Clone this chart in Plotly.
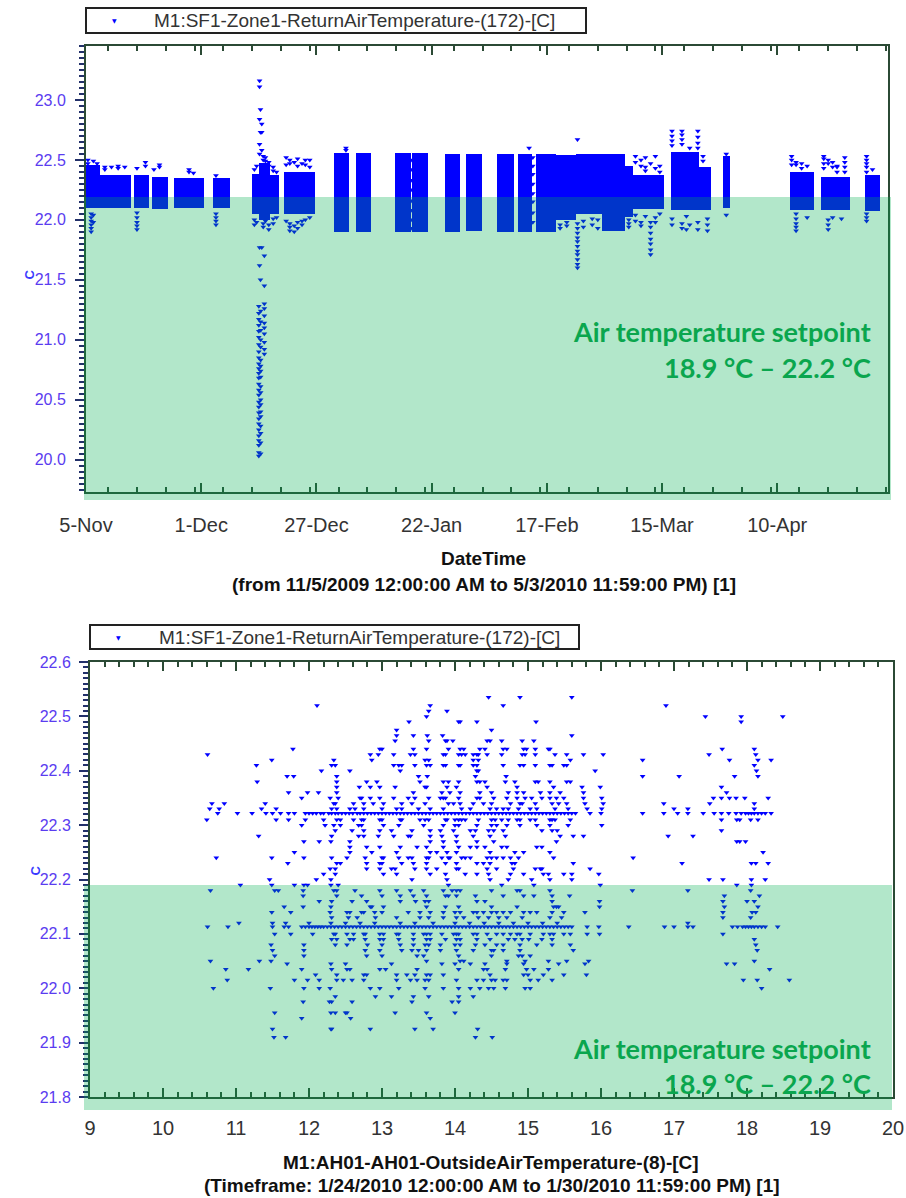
import pandas as pd
import plotly.graph_objects as go

# ---------------- Top chart data (return air temperature over time) ----------------
seg_start = ["2009-11-05 00:00", "2009-11-08 06:00", "2009-11-15 18:00", "2009-11-19 20:00",
             "2009-11-24 20:00", "2009-12-03 16:00", "2009-12-12 12:00", "2009-12-14 00:00",
             "2009-12-16 12:00", "2009-12-19 14:00", "2009-12-30 22:00", "2010-01-05 00:00",
             "2010-01-13 20:00", "2010-01-17 12:00", "2010-01-24 22:00", "2010-01-29 17:00",
             "2010-02-05 17:00", "2010-02-10 10:00", "2010-02-14 12:00", "2010-02-19 00:00",
             "2010-02-23 12:00", "2010-03-01 12:00", "2010-03-06 18:00", "2010-03-08 12:00",
             "2010-03-16 22:00", "2010-03-23 06:00", "2010-03-28 19:00", "2010-04-12 19:00",
             "2010-04-19 22:00", "2010-04-29 19:00"]
seg_end = ["2009-11-08 06:00", "2009-11-15 02:00", "2009-11-19 06:00", "2009-11-23 12:00",
           "2009-12-01 14:00", "2009-12-07 14:00", "2009-12-14 00:00", "2009-12-16 12:00",
           "2009-12-18 16:00", "2009-12-26 14:00", "2010-01-03 08:00", "2010-01-08 08:00",
           "2010-01-17 06:00", "2010-01-21 06:00", "2010-01-28 10:00", "2010-02-02 07:00",
           "2010-02-09 14:00", "2010-02-13 16:00", "2010-02-19 00:00", "2010-02-23 12:00",
           "2010-03-01 12:00", "2010-03-06 18:00", "2010-03-08 12:00", "2010-03-15 10:00",
           "2010-03-23 06:00", "2010-03-26 02:00", "2010-03-30 07:00", "2010-04-18 07:00",
           "2010-04-26 10:00", "2010-05-03 05:00"]
seg_low = [22.10, 22.10, 22.10, 22.09, 22.10, 22.10, 22.05, 22.00, 22.05, 22.05,
           21.90, 21.90, 21.90, 21.90, 21.90, 21.91, 21.90, 21.90, 21.90, 22.00,
           22.05, 21.91, 22.02, 22.09, 22.08, 22.08, 22.10, 22.08, 22.08, 22.07]
seg_high = [22.46, 22.37, 22.37, 22.36, 22.35, 22.35, 22.38, 22.47, 22.37, 22.40,
            22.56, 22.56, 22.56, 22.56, 22.55, 22.55, 22.55, 22.55, 22.55, 22.54,
            22.55, 22.55, 22.45, 22.37, 22.57, 22.44, 22.53, 22.40, 22.36, 22.37]

out_group_time = [
    "2009-11-05 10:00", "2009-11-06 04:00", "2009-11-06 16:00", "2009-11-07 12:00",
    "2009-11-09 06:00", "2009-11-10 18:00", "2009-11-12 06:00", "2009-11-13 18:00",
    "2009-11-16 12:00", "2009-11-18 10:00", "2009-11-20 08:00", "2009-11-21 14:00",
    "2009-11-28 06:00", "2009-11-29 06:00", "2009-12-04 08:00",
    "2009-12-13 00:00", "2009-12-13 12:00", "2009-12-15 00:00", "2009-12-15 12:00",
    "2009-12-16 06:00", "2009-12-17 06:00", "2009-12-18 00:00",
    "2009-12-14 04:00", "2009-12-14 09:00", "2009-12-14 16:00", "2009-12-15 06:00",
    "2009-12-14 00:00", "2009-12-14 10:00",
    "2009-12-20 04:00", "2009-12-21 00:00", "2009-12-22 00:00", "2009-12-22 18:00",
    "2009-12-23 18:00", "2009-12-24 12:00", "2009-12-25 12:00",
    "2010-01-02 16:00", "2010-01-17 09:00",
    "2010-02-13 00:00", "2010-02-13 20:00", "2010-02-20 00:00", "2010-02-21 12:00",
    "2010-02-23 22:00", "2010-02-25 06:00", "2010-02-27 06:00", "2010-02-28 12:00",
    "2010-03-07 12:00", "2010-03-09 00:00", "2010-03-10 06:00", "2010-03-11 06:00",
    "2010-03-12 10:00", "2010-03-13 12:00", "2010-03-14 12:00",
    "2010-03-17 06:00", "2010-03-19 12:00", "2010-03-20 12:00", "2010-03-21 06:00",
    "2010-03-23 02:00", "2010-03-24 06:00", "2010-03-25 06:00", "2010-03-29 12:00",
    "2010-04-13 06:00", "2010-04-14 06:00", "2010-04-15 12:00", "2010-04-16 18:00",
    "2010-04-20 12:00", "2010-04-21 12:00", "2010-04-22 12:00", "2010-04-23 12:00",
    "2010-04-24 12:00", "2010-04-25 06:00", "2010-04-30 04:00", "2010-05-01 12:00"]
out_group_temps = [
    [22.50, 22.47, 22.44], [22.05, 22.02, 21.99, 21.96, 21.93, 21.90], [22.49, 22.04, 21.98], [22.47, 22.43],
    [22.44, 22.42], [22.44], [22.45, 22.43], [22.44],
    [22.43, 22.06, 22.02, 21.98, 21.95, 21.92], [22.48, 22.45], [22.42], [22.46, 22.44],
    [22.42, 22.40], [22.39], [22.37, 22.05, 22.02, 21.99, 21.96],
    [22.42, 22.00, 21.96], [22.45, 21.98], [22.53, 22.50, 21.97, 21.94], [22.52, 22.49, 21.99],
    [22.48, 22.45, 21.96, 21.92], [22.44, 22.41, 22.01, 21.97], [22.40, 22.02],
    [23.16, 23.11, 22.84, 22.63, 22.55, 21.77, 21.62], [22.92, 22.73, 21.50], [22.80, 22.73, 22.58, 21.77],
    [21.70, 21.45, 21.30, 21.26, 21.20, 21.14, 21.10, 21.05, 20.98, 20.92, 20.88],
    [21.28, 21.22, 21.17, 21.12, 21.07, 21.02, 20.96, 20.90, 20.85, 20.80, 20.76, 20.72, 20.68, 20.63,
     20.58, 20.54, 20.48, 20.44, 20.39, 20.34, 20.30, 20.25, 20.20, 20.16, 20.12, 20.06, 20.03],
    [21.24, 21.15, 21.08, 21.00, 20.94, 20.83, 20.78, 20.74, 20.69, 20.61, 20.56, 20.50, 20.46, 20.40,
     20.36, 20.28, 20.22, 20.14, 20.05],
    [22.52, 22.46, 21.99], [22.50, 22.47, 21.97, 21.94, 21.91], [22.48, 21.95, 21.90], [22.51, 22.45, 21.98, 21.93],
    [22.47, 21.99, 21.96], [22.50, 22.46, 22.00], [22.50, 22.44, 22.02],
    [22.60, 22.58], [22.50, 22.42, 22.33, 22.25, 22.16, 22.08, 22.00, 21.93],
    [22.60], [22.52, 22.45, 22.38, 22.30, 22.22, 22.15, 22.06, 21.98], [21.96, 21.93], [21.98, 21.95],
    [22.67, 21.97, 21.93, 21.89, 21.85, 21.82, 21.78, 21.74, 21.71, 21.67, 21.63, 21.60],
    [21.99, 21.94], [22.01, 21.96], [22.00, 21.93],
    [22.00, 21.97, 21.94], [22.53, 22.48, 22.04, 21.99], [22.50, 22.45, 21.98, 21.95], [22.52, 22.44, 22.41, 22.03],
    [22.47, 21.98, 21.94, 21.89, 21.84, 21.80, 21.75, 21.71], [22.53, 22.43, 22.02, 21.98], [22.45, 22.40, 22.05],
    [22.74, 22.70, 22.66, 22.62, 22.01, 21.96], [22.74, 22.71, 22.67, 22.63, 21.93, 21.97], [21.92, 22.03], [22.60, 21.96],
    [22.74, 22.69, 22.64, 22.60, 21.98, 21.92], [22.53, 22.49], [22.01, 21.96, 21.91], [22.55, 22.04],
    [22.53, 22.50, 22.46], [22.48, 22.46, 22.05, 22.01, 21.97, 21.94, 21.91], [22.47, 22.43], [22.45, 22.02],
    [22.53, 22.51, 22.47, 22.43], [22.50, 22.47, 22.00, 21.96, 21.92], [22.48, 22.44, 22.02], [22.45, 22.44, 22.40],
    [22.01], [22.52, 22.48, 22.44, 22.40], [22.53, 22.50, 22.47, 22.44, 22.40, 22.05, 22.02, 21.99], [22.42]]

# ---------------- Bottom chart data (return air vs outside air) ----------------
rat_levels = [22.535, 22.52, 22.51, 22.50, 22.49, 22.475, 22.465, 22.455, 22.44, 22.43,
              22.42, 22.41, 22.40, 22.39, 22.38, 22.37, 22.36, 22.35, 22.34, 22.33,
              22.322, 22.31, 22.30, 22.29, 22.28, 22.27, 22.26, 22.25, 22.24, 22.23,
              22.22, 22.21, 22.20, 22.19, 22.18, 22.17, 22.16, 22.15, 22.14, 22.13,
              22.12, 22.113, 22.10, 22.09, 22.08, 22.07, 22.06, 22.05, 22.045, 22.035,
              22.025, 22.015, 22.00, 21.985, 21.975, 21.955, 21.945, 21.925, 21.91]
oat_rows = [
    [14.46, 14.89, 15.60],
    [12.11, 13.66, 14.66, 16.89],
    [13.64, 13.89],
    [13.61, 17.43, 17.92, 18.49],
    [13.37, 14.05, 14.07, 14.30, 15.11, 17.92],
    [13.20, 14.50],
    [13.20, 13.43, 13.62, 13.83, 15.60],
    [13.18, 13.64, 13.87, 13.89, 13.97, 14.44, 14.48, 14.64, 14.92, 15.08],
    [12.97, 13.00, 13.43, 13.61, 13.91, 14.07, 14.12, 14.34, 14.41, 14.66, 14.71, 14.94, 14.98,
     15.10, 15.28, 15.30, 11.78, 17.66, 18.10],
    [10.61, 12.84, 12.95, 13.16, 13.39, 13.45, 13.84, 13.87, 14.05, 14.09, 14.14, 14.25, 14.30,
     14.32, 14.44, 14.64, 14.92, 14.96, 15.10, 15.37, 15.53, 15.76, 16.03, 18.12, 17.48],
    [11.49, 12.34, 12.86, 13.59, 13.64, 14.25, 14.32, 15.58, 16.57, 17.76, 18.15, 18.33],
    [11.28, 12.31, 12.36, 13.16, 13.23, 13.27, 13.45, 13.61, 13.66, 13.84, 13.87, 14.05, 14.07,
     14.25, 14.30, 14.66, 14.89, 14.94, 15.10, 15.30, 15.33, 15.49, 15.53, 18.10],
    [12.56, 13.25, 14.30, 14.32, 15.92, 18.13, 12.17],
    [11.70, 11.79, 12.38, 13.50, 13.62, 14.28, 14.70, 16.57, 17.07, 17.83, 18.15],
    [11.29, 12.38, 12.79, 12.93, 13.52, 13.84, 13.91, 14.05, 14.30, 14.34, 14.41, 14.69, 14.82,
     15.10, 15.14, 15.30, 15.58, 15.53],
    [12.38, 12.69, 12.84, 12.97, 13.18, 13.59, 13.61, 13.89, 14.02, 14.44, 14.85, 15.35, 15.74,
     15.99, 17.65],
    [11.72, 11.98, 12.13, 12.38, 13.43, 13.82, 13.93, 14.07, 14.34, 14.50, 14.73, 14.85, 14.94,
     15.17, 15.30, 15.44, 15.76, 17.72],
    [11.90, 12.29, 12.40, 12.70, 12.72, 12.84, 12.97, 13.16, 13.36, 13.45, 13.64, 13.80, 13.84,
     13.87, 14.05, 14.30, 14.34, 14.53, 14.71, 14.85, 14.96, 15.05, 15.19, 15.30, 15.39, 15.49,
     15.76, 16.01, 17.54, 17.65, 17.76, 17.85, 17.97, 18.29],
    [10.67, 10.84, 11.40, 12.34, 12.36, 12.61, 12.75, 12.88, 13.02, 13.27, 13.41, 13.59, 13.91,
     13.98, 14.07, 14.25, 14.39, 14.50, 14.76, 14.89, 14.92, 15.10, 15.33, 15.42, 15.53, 15.78,
     16.03, 16.86, 17.49, 18.10],
    [10.64, 10.77, 11.35, 11.55, 12.31, 12.38, 12.56, 12.63, 12.75, 13.00, 13.20, 13.27, 13.50,
     13.66, 13.84, 14.09, 14.21, 14.48, 14.57, 14.66, 14.73, 14.87, 15.03, 15.12, 15.37, 15.55,
     15.81, 16.01, 17.00, 17.19, 18.10],
    [10.75, 11.02, 11.22, 11.41, 11.50, 11.61, 11.72, 11.80, 11.95, 12.00, 12.05, 12.10, 12.16,
     12.20, 12.27, 12.31, 12.36, 12.40, 12.45, 12.50, 12.55, 12.60, 12.66, 12.70, 12.75, 12.80,
     12.85, 12.90, 12.95, 13.00, 13.05, 13.10, 13.15, 13.20, 13.25, 13.30, 13.35, 13.40, 13.45,
     13.50, 13.55, 13.60, 13.65, 13.70, 13.75, 13.80, 13.85, 13.90, 13.95, 14.00, 14.05, 14.10,
     14.15, 14.20, 14.25, 14.30, 14.35, 14.40, 14.45, 14.50, 14.55, 14.60, 14.65, 14.70, 14.75,
     14.80, 14.85, 14.90, 14.95, 15.00, 15.05, 15.10, 15.15, 15.20, 15.25, 15.30, 15.35, 15.40,
     15.45, 15.50, 15.55, 15.60, 15.65, 15.85, 16.00, 16.57, 16.86, 17.05, 17.19, 17.40, 17.55,
     17.65, 17.75, 17.85, 17.92, 17.98, 18.02, 18.06, 18.10, 18.15, 18.20, 18.25, 18.33],
    [10.60, 11.55, 11.72, 11.95, 12.20, 12.38, 12.43, 12.61, 12.72, 12.75, 12.97, 13.00, 13.25,
     13.27, 13.52, 13.59, 13.64, 13.87, 13.89, 14.00, 14.05, 14.09, 14.14, 14.32, 14.50, 14.55,
     14.64, 14.73, 14.85, 14.89, 15.03, 15.10, 15.30, 15.33, 15.37, 15.58, 17.65, 17.86, 17.90,
     18.05, 18.15],
    [11.90, 12.22, 12.34, 12.43, 12.68, 12.72, 13.02, 13.23, 13.57, 13.84, 14.00, 14.05, 14.30,
     14.50, 14.57, 14.71, 14.89, 15.12, 15.30, 15.55, 16.01],
    [12.36, 12.59, 12.75, 12.97, 13.13, 13.41, 13.66, 13.80, 13.98, 14.21, 14.28, 14.46, 14.53,
     14.66, 15.19, 15.33, 15.40, 17.65],
    [11.31, 12.31, 12.68, 12.75, 12.95, 13.16, 13.36, 13.39, 13.66, 13.82, 14.02, 14.25, 14.48,
     14.69, 15.44, 15.62, 15.76, 16.92, 17.26],
    [11.93, 12.14, 12.30, 12.56, 13.66, 13.84, 14.02, 14.30, 14.53, 15.39, 17.86, 17.90, 17.98],
    [12.56, 12.79, 12.97, 13.25, 13.48, 13.61, 13.84, 14.05, 14.21, 14.30, 14.41, 14.64, 14.71,
     15.12, 15.19],
    [11.80, 12.56, 12.86, 13.20, 13.66, 13.75, 13.89, 14.02, 14.48, 14.82, 14.94, 15.30, 18.22],
    [10.73, 11.49, 11.93, 12.31, 12.52, 12.77, 13.00, 13.02, 13.23, 13.36, 13.41, 13.61, 13.64,
     13.82, 13.91, 13.93, 14.09, 14.14, 14.21, 14.44, 14.50, 14.57, 14.66, 14.76, 14.87, 15.35,
     16.44],
    [11.71, 12.38, 12.43, 12.79, 12.97, 13.00, 13.27, 13.43, 13.61, 13.87, 14.02, 14.30, 14.39,
     14.48, 14.78, 14.82, 15.62, 17.11, 18.06, 18.12, 18.29],
    [12.29, 12.36, 12.79, 12.97, 13.13, 13.18, 13.45, 13.61, 13.75, 14.02, 14.05, 14.44, 14.57,
     14.80, 15.10, 15.17, 15.19, 15.85],
    [12.20, 12.36, 13.02, 13.20, 13.66, 13.87, 14.14, 14.30, 14.46, 14.76, 14.94, 15.21, 15.28,
     15.49, 15.60, 15.97],
    [11.46, 12.10, 12.30, 13.41, 13.89, 14.48, 14.73, 15.05, 15.30, 15.60, 17.48, 17.67, 18.06,
     18.25],
    [11.06, 11.49, 11.80, 11.93, 11.98, 12.30, 12.40, 13.91, 14.64, 15.08, 15.99, 17.86, 18.06],
    [10.65, 11.53, 11.58, 11.92, 12.34, 12.38, 12.63, 12.97, 13.20, 13.39, 13.57, 13.84, 13.96,
     14.02, 14.07, 14.50, 14.85, 14.89, 15.30, 16.43, 17.19, 18.05],
    [11.92, 12.38, 12.72, 13.00, 13.25, 13.43, 13.61, 13.87, 13.91, 14.02, 14.28, 14.66, 14.94,
     15.08, 15.33, 15.57, 17.69, 18.17],
    [12.14, 12.31, 12.59, 12.79, 13.25, 13.46, 13.59, 13.64, 14.30, 14.41, 15.33, 15.98, 17.67,
     18.00, 18.10],
    [11.66, 11.92, 12.30, 12.84, 12.86, 13.02, 13.61, 13.87, 14.05, 14.50, 14.85, 15.35, 15.39,
     15.42, 15.98, 17.69, 18.15],
    [11.49, 11.75, 12.29, 12.52, 12.56, 12.72, 12.75, 12.90, 13.00, 13.36, 13.52, 13.66, 13.84,
     14.00, 14.07, 14.25, 14.30, 14.39, 14.50, 14.57, 14.66, 14.76, 14.94, 15.03, 15.12, 15.33,
     15.49, 15.78, 17.67, 18.07, 18.12],
    [12.31, 12.54, 12.66, 12.91, 13.20, 13.52, 13.64, 13.84, 14.02, 14.12, 14.32, 14.46, 14.60,
     14.71, 14.92, 15.30, 15.46, 17.67, 18.05],
    [11.04, 11.50, 11.68, 12.00, 12.30, 12.50, 12.70, 12.90, 13.25, 13.45, 13.70, 14.00, 14.20,
     14.40, 14.60, 14.80, 15.00, 15.20, 15.40, 17.19],
    [10.61, 10.89, 11.50, 11.66, 11.72, 11.90, 11.95, 12.00, 12.04, 12.08, 12.12, 12.16, 12.20,
     12.25, 12.30, 12.35, 12.40, 12.45, 12.50, 12.55, 12.60, 12.65, 12.70, 12.75, 12.80, 12.85,
     12.90, 12.95, 13.00, 13.05, 13.10, 13.15, 13.20, 13.25, 13.30, 13.35, 13.40, 13.45, 13.50,
     13.55, 13.60, 13.65, 13.70, 13.75, 13.80, 13.85, 13.90, 13.95, 14.00, 14.05, 14.10, 14.15,
     14.20, 14.25, 14.30, 14.35, 14.40, 14.45, 14.50, 14.55, 14.60, 14.65, 14.70, 14.75, 14.80,
     14.85, 14.90, 14.95, 15.00, 15.05, 15.10, 15.15, 15.20, 15.25, 15.30, 15.35, 15.40, 15.45,
     15.50, 15.55, 15.60, 15.81, 15.97, 16.38, 16.87, 17.00, 17.19, 17.26, 17.80, 17.87, 17.94,
     17.98, 18.02, 18.06, 18.10, 18.15, 18.20, 18.25, 18.42],
    [11.53, 11.75, 12.05, 12.34, 12.36, 12.52, 12.61, 12.75, 12.77, 12.97, 13.02, 13.20, 13.23,
     13.43, 13.57, 13.61, 13.66, 13.82, 13.98, 14.02, 14.05, 14.25, 14.30, 14.44, 14.57, 14.66,
     14.76, 14.85, 14.89, 15.03, 15.21, 15.30, 15.35, 15.49, 15.58, 15.81, 15.98, 17.67],
    [12.31, 12.38, 12.56, 12.61, 12.77, 12.97, 13.02, 13.23, 13.43, 13.61, 13.66, 13.87, 14.02,
     14.07, 14.30, 14.48, 14.73, 14.82, 14.92, 15.01, 15.19, 15.33, 18.10],
    [11.48, 11.93, 12.36, 12.52, 12.80, 13.00, 13.25, 13.43, 13.59, 13.64, 13.80, 14.00, 14.07,
     14.28, 14.41, 14.57, 14.66, 14.89, 15.12, 15.33, 15.58, 18.12],
    [11.50, 11.93, 12.77, 12.97, 13.27, 13.41, 13.50, 13.61, 13.80, 14.02, 14.25, 14.50, 14.53,
     14.66, 14.89, 15.62, 18.14],
    [11.53, 11.93, 12.79, 13.00, 13.48, 13.57, 14.05, 14.50, 14.87, 14.92, 15.03],
    [10.65, 11.32, 11.48, 13.61, 14.07, 14.12, 14.71, 14.96, 15.28, 15.53, 15.83, 18.10],
    [11.70, 12.30, 12.50, 13.13, 13.82, 14.00, 14.21, 14.41, 14.71, 14.94, 15.42, 15.78, 17.72,
     17.83],
    [10.86, 11.17, 11.90, 12.31, 12.52, 12.56, 12.97, 13.05, 13.48, 14.05, 14.39, 14.44, 14.69,
     14.98, 15.08, 15.28, 18.31],
    [12.09, 12.38, 12.75, 12.79, 13.20, 13.34, 13.45, 13.61, 13.66, 13.84, 14.48, 14.94, 15.00,
     15.21, 15.49, 15.80],
    [10.88, 11.80, 11.98, 12.14, 12.38, 12.47, 12.59, 12.75, 13.20, 13.39, 13.48, 13.59, 13.64,
     14.02, 14.30, 14.39, 14.50, 14.55, 14.66, 14.71, 15.03, 15.14, 15.33, 17.95, 18.14, 18.58],
    [10.69, 11.47, 11.93, 12.14, 12.29, 12.84, 12.97, 13.23, 13.59, 13.84, 14.05, 14.21, 14.34,
     14.46, 14.53, 14.69, 14.96, 15.03, 18.20],
    [12.36, 12.91, 13.13, 13.43, 13.64, 14.05, 14.25],
    [11.92, 12.28, 12.31, 12.59, 13.41, 13.96, 14.05],
    [11.53, 12.30, 12.36, 12.50, 12.52, 13.18, 13.61, 14.00],
    [11.90, 12.57, 13.66],
    [11.50, 12.30, 12.31, 12.84, 13.45, 13.70, 14.31],
    [11.52, 11.68, 14.28, 14.51]]

setpoint_high = 22.19
series_name = "M1:SF1-Zone1-ReturnAirTemperature-(172)-[C]"

# ---------------- build traces ----------------
starts = pd.to_datetime(seg_start)
ends = pd.to_datetime(seg_end)
widths = [(e - s).total_seconds() * 1000 for s, e in zip(starts, ends)]
heights = [h - l for l, h in zip(seg_low, seg_high)]

out_time, out_temp = [], []
for t, temps in zip(out_group_time, out_group_temps):
    for v in temps:
        out_time.append(t)
        out_temp.append(v)

oat, rat = [], []
for lvl, xs in zip(rat_levels, oat_rows):
    for xv in xs:
        oat.append(xv)
        rat.append(lvl)

W, H = 906, 1198
BLUE = "#0000ff"
AX = "#2b4a35"
YLAB = "#5a3cf0"
FONT = "Liberation Sans, Arial, sans-serif"

top_dom_x = [86 / W, 888 / W]
top_dom_y = [1 - 492 / H, 1 - 46 / H]
top_range_y = [19.73, 23.45]
bot_dom_x = [90 / W, 893 / W]
bot_dom_y = [1 - 1097 / H, 1 - 662 / H]
bot_range_y = [21.8, 22.6]

fig = go.Figure()
fig.add_trace(go.Bar(x=seg_start, y=heights, base=seg_low, width=widths, offset=0,
                     marker=dict(color=BLUE, line=dict(width=0)), showlegend=False,
                     xaxis="x", yaxis="y", hoverinfo="skip"))
fig.add_trace(go.Scatter(x=out_time, y=out_temp, mode="markers", name=series_name,
                         marker=dict(symbol="triangle-down", size=5, color=BLUE),
                         xaxis="x", yaxis="y", showlegend=False))
fig.add_trace(go.Scatter(x=oat, y=rat, mode="markers", name=series_name,
                         marker=dict(symbol="triangle-down", size=5, color=BLUE),
                         xaxis="x2", yaxis="y2", showlegend=False))


def dom_frac(v, rng, dom):
    return dom[0] + (v - rng[0]) / (rng[1] - rng[0]) * (dom[1] - dom[0])


green = "rgb(0,176,80)"
shapes = [
    dict(type="rect", xref="paper", yref="paper", layer="above", line=dict(width=0),
         fillcolor=green, opacity=0.3,
         x0=84 / W, x1=891 / W, y0=1 - 500 / H,
         y1=dom_frac(setpoint_high, top_range_y, top_dom_y)),
    dict(type="rect", xref="paper", yref="paper", layer="above", line=dict(width=0),
         fillcolor=green, opacity=0.3,
         x0=84 / W, x1=892 / W, y0=1 - 1110 / H,
         y1=dom_frac(setpoint_high, bot_range_y, bot_dom_y)),
    # legend boxes
    dict(type="rect", xref="paper", yref="paper", layer="above",
         line=dict(width=2, color="#222222"), fillcolor="white",
         x0=86 / W, x1=586 / W, y0=1 - 33 / H, y1=1 - 8 / H),
    dict(type="rect", xref="paper", yref="paper", layer="above",
         line=dict(width=2, color="#222222"), fillcolor="white",
         x0=90 / W, x1=579 / W, y0=1 - 649 / H, y1=1 - 625 / H),
]

xcommon = dict(showgrid=False, zeroline=False, ticks="inside", ticklen=9, tickwidth=1.5,
               tickcolor=AX, linecolor=AX, linewidth=2, mirror="allticks", automargin=False,
               tickfont=dict(family=FONT, size=20, color="#333333"))
ycommon = dict(showgrid=False, zeroline=False, ticks="outside", ticklen=9, tickwidth=1.5,
               tickcolor="#22306a", linecolor=AX, linewidth=2, mirror=True, automargin=False,
               tickfont=dict(family=FONT, size=16, color=YLAB), tickformat=".1f")

fig.update_layout(
    template="none",
    width=W, height=H, margin=dict(l=0, r=0, t=0, b=0, pad=0), autosize=False,
    paper_bgcolor="white", plot_bgcolor="white", barmode="overlay", bargap=0,
    showlegend=False,
    xaxis=dict(domain=top_dom_x, anchor="y", type="date",
               range=["2009-11-05", "2010-05-05"], tick0="2009-11-05",
               dtick=26 * 86400000, tickformat="%-d-%b", ticklabelstandoff=14,
               minor=dict(dtick=6.5 * 86400000, ticks="inside", ticklen=5, tickcolor=AX),
               **xcommon),
    yaxis=dict(domain=top_dom_y, anchor="x", range=top_range_y, tick0=20, dtick=0.5,
               ticklabelstandoff=6,
               minor=dict(dtick=0.05, ticks="outside", ticklen=5, tickcolor="#22306a"),
               **ycommon),
    xaxis2=dict(domain=bot_dom_x, anchor="y2", range=[9, 20], tick0=9, dtick=1,
                ticklabelstandoff=12,
                minor=dict(dtick=0.2, ticks="inside", ticklen=5, tickcolor=AX),
                **xcommon),
    yaxis2=dict(domain=bot_dom_y, anchor="x2", range=bot_range_y, tick0=21.8, dtick=0.1,
                ticklabelstandoff=5,
                minor=dict(dtick=0.01, ticks="outside", ticklen=5, tickcolor="#22306a"),
                **ycommon),
    shapes=shapes,
)

ann_green = dict(color="#0aa64e", size=27, family="Lato, Open Sans, sans-serif")
title_font = dict(family=FONT, size=19, color="#111111")
ann_list = []
for txt, py in [("<b>Air temperature setpoint</b>", 331), ("<b>18.9 °C – 22.2 °C</b>", 367),
                ("<b>Air temperature setpoint</b>", 1048), ("<b>18.9 °C – 22.2 °C</b>", 1083)]:
    ann_list.append(dict(text=txt, x=873 / W, y=1 - py / H, xref="paper", yref="paper",
                         xanchor="right", yanchor="middle", showarrow=False, font=ann_green))
for txt, px, py in [("<b>DateTime</b>", 484, 558),
                    ("<b>(from 11/5/2009 12:00:00 AM to 5/3/2010 11:59:00 PM) [1]</b>", 484, 584),
                    ("<b>M1:AH01-AH01-OutsideAirTemperature-(8)-[C]</b>", 491, 1162),
                    ("<b>(Timeframe: 1/24/2010 12:00:00 AM to 1/30/2010 11:59:00 PM) [1]</b>", 492, 1185)]:
    ann_list.append(dict(text=txt, x=px / W, y=1 - py / H, xref="paper", yref="paper",
                         xanchor="center", yanchor="middle", showarrow=False, font=title_font))
for px, py in [(19, 268), (25, 878)]:
    ann_list.append(dict(text="<b>C</b>", x=px / W, y=1 - py / H, xref="paper", yref="paper",
                         textangle=-90, showarrow=False,
                         font=dict(family=FONT, size=13, color="#3a3aff")))
# legend entries (symbol + series name)
for sx, tx, py in [(114, 152, 20.5), (118, 157, 637)]:
    ann_list.append(dict(text="▼", x=sx / W, y=1 - py / H, xref="paper", yref="paper",
                         xanchor="center", yanchor="middle", showarrow=False,
                         font=dict(family="DejaVu Sans", size=6, color=BLUE)))
    ann_list.append(dict(text=series_name, x=tx / W, y=1 - py / H, xref="paper", yref="paper",
                         xanchor="left", yanchor="middle", showarrow=False,
                         font=dict(family=FONT, size=19, color="#333333")))
fig.update_layout(annotations=ann_list)

fig.write_html("out.html", config={"displayModeBar": False},
               post_script="document.body.style.margin='0';document.body.style.overflow='hidden';")
